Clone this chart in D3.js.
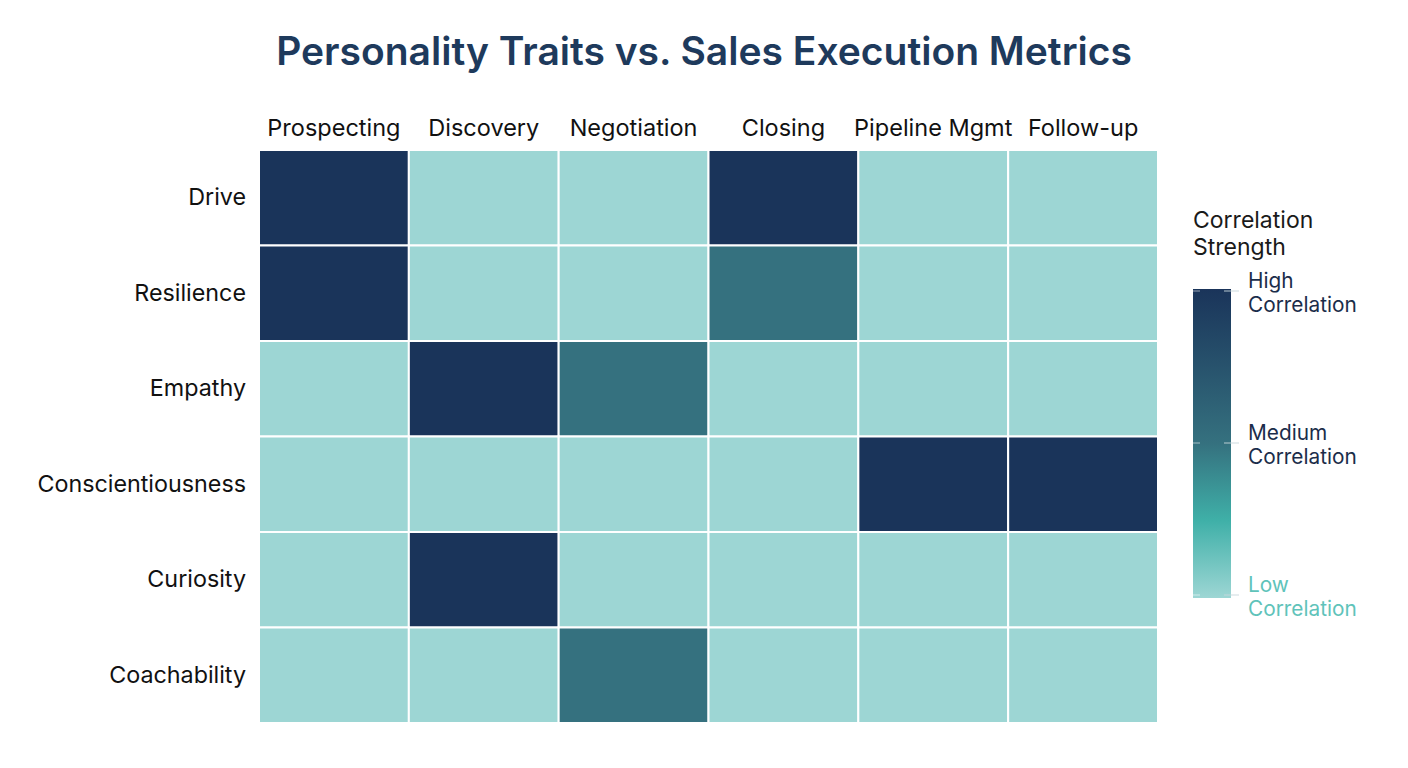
<!DOCTYPE html>
<html>
<head>
<meta charset="utf-8">
<script src="https://cdn.jsdelivr.net/npm/d3@7"></script>
<style>
  body { margin: 0; background: #fff; }
  svg { font-family: Inter, "Noto Sans", sans-serif; }
</style>
</head>
<body>
<svg id="svg" width="1408" height="768"></svg>
<script>
const width = 1408;
const height = 768;

const metrics = ['Prospecting', 'Discovery', 'Negotiation', 'Closing', 'Pipeline Mgmt', 'Follow-up'];
const traits = ['Drive', 'Resilience', 'Empathy', 'Conscientiousness', 'Curiosity', 'Coachability'];

// 1 = high, 0.5 = medium, 0 = low
const driveValues = [1, 0, 0, 1, 0, 0];
const resilienceValues = [1, 0, 0, 0.5, 0, 0];
const empathyValues = [0, 1, 0.5, 0, 0, 0];
const conscientiousnessValues = [0, 0, 0, 0, 1, 1];
const curiosityValues = [0, 1, 0, 0, 0, 0];
const coachabilityValues = [0, 0, 0.5, 0, 0, 0];

const legendTicks = [1, 0.5, 0];
const legendLabels = ['High', 'Medium', 'Low'];

const rows = [driveValues, resilienceValues, empathyValues,
              conscientiousnessValues, curiosityValues, coachabilityValues];

const cells = [];
rows.forEach((vals, i) => {
	vals.forEach((v, j) => {
		cells.push({ trait: traits[i], metric: metrics[j], value: v });
	});
});

const grid = { left: 259, top: 150, right: 1158, bottom: 723 };

const svg = d3.select('#svg');

const color = d3.scaleLinear()
	.domain([0, 0.25, 0.5, 1])
	.range(['#9dd6d4', '#3fb0a8', '#35717f', '#1a345a']);

const xScale = d3.scaleBand()
	.domain(metrics)
	.range([grid.left, grid.right]);

const yScale = d3.scaleBand()
	.domain(traits)
	.range([grid.top, grid.bottom]);

// title
svg.append('text')
	.attr('x', 704)
	.attr('y', 65)
	.attr('text-anchor', 'middle')
	.attr('font-size', 39)
	.attr('font-weight', 600)
	.attr('fill', '#1e3a5c')
	.text('Personality Traits vs. Sales Execution Metrics');

// cells
svg.append('g')
	.selectAll('rect')
	.data(cells)
	.enter()
	.append('rect')
	.attr('x', d => xScale(d.metric))
	.attr('y', d => yScale(d.trait))
	.attr('width', xScale.bandwidth())
	.attr('height', yScale.bandwidth())
	.attr('fill', d => color(d.value))
	.attr('stroke', '#fff')
	.attr('stroke-width', 2);

// column labels
const xAxis = d3.axisTop(xScale).tickSize(0).tickPadding(14);
svg.append('g')
	.attr('transform', 'translate(0,' + grid.top + ')')
	.call(xAxis)
	.call(g => g.select('.domain').remove())
	.selectAll('text')
	.attr('font-size', 23.5)
	.attr('font-family', 'Inter, "Noto Sans", sans-serif')
	.attr('fill', '#111');

// row labels
const yAxis = d3.axisLeft(yScale).tickSize(0).tickPadding(13);
svg.append('g')
	.attr('transform', 'translate(' + grid.left + ',0)')
	.call(yAxis)
	.call(g => g.select('.domain').remove())
	.selectAll('text')
	.attr('font-size', 23.3)
	.attr('font-family', 'Inter, "Noto Sans", sans-serif')
	.attr('fill', '#111');

// legend
const legend = { x: 1193, w: 38, top: 289, bottom: 598 };

const legendScale = d3.scaleLinear()
	.domain([0, 1])
	.range([legend.bottom - 3, legend.top + 2]);

const defs = svg.append('defs');
const grad = defs.append('linearGradient')
	.attr('id', 'legend-grad')
	.attr('x1', 0).attr('y1', 1)
	.attr('x2', 0).attr('y2', 0);
color.domain().forEach((d, i) => {
	grad.append('stop')
		.attr('offset', d)
		.attr('stop-color', color.range()[i]);
});

svg.append('text')
	.attr('x', legend.x)
	.attr('y', 228)
	.attr('font-size', 23)
	.attr('fill', '#1a1a1a')
	.selectAll('tspan')
	.data(['Correlation', 'Strength'])
	.enter()
	.append('tspan')
	.attr('x', legend.x)
	.attr('dy', (d, i) => i === 0 ? 0 : 27)
	.text(d => d);

svg.append('rect')
	.attr('x', legend.x)
	.attr('y', legend.top)
	.attr('width', legend.w)
	.attr('height', legend.bottom - legend.top)
	.attr('fill', 'url(#legend-grad)');

const tickG = svg.append('g')
	.selectAll('g')
	.data(legendTicks)
	.enter()
	.append('g')
	.attr('transform', d => 'translate(0,' + legendScale(d) + ')');

tickG.append('line')
	.attr('x1', legend.x).attr('x2', legend.x + 7)
	.attr('stroke', 'rgba(255,255,255,0.55)')
	.attr('stroke-width', 1);

tickG.append('line')
	.attr('x1', legend.x + legend.w - 7).attr('x2', legend.x + legend.w + 8)
	.attr('stroke', 'rgba(200,215,220,0.9)')
	.attr('stroke-width', 1);

tickG.append('text')
	.attr('x', legend.x + 55)
	.attr('y', -3)
	.attr('font-size', 20.8)
	.attr('fill', d => d === 0 ? '#5fc3ba' : '#1b2d4a')
	.selectAll('tspan')
	.data(d => [legendLabels[legendTicks.indexOf(d)], 'Correlation'])
	.enter()
	.append('tspan')
	.attr('x', legend.x + 55)
	.attr('dy', (d, i) => i === 0 ? 0 : 24)
	.text(d => d);
</script>
</body>
</html>
